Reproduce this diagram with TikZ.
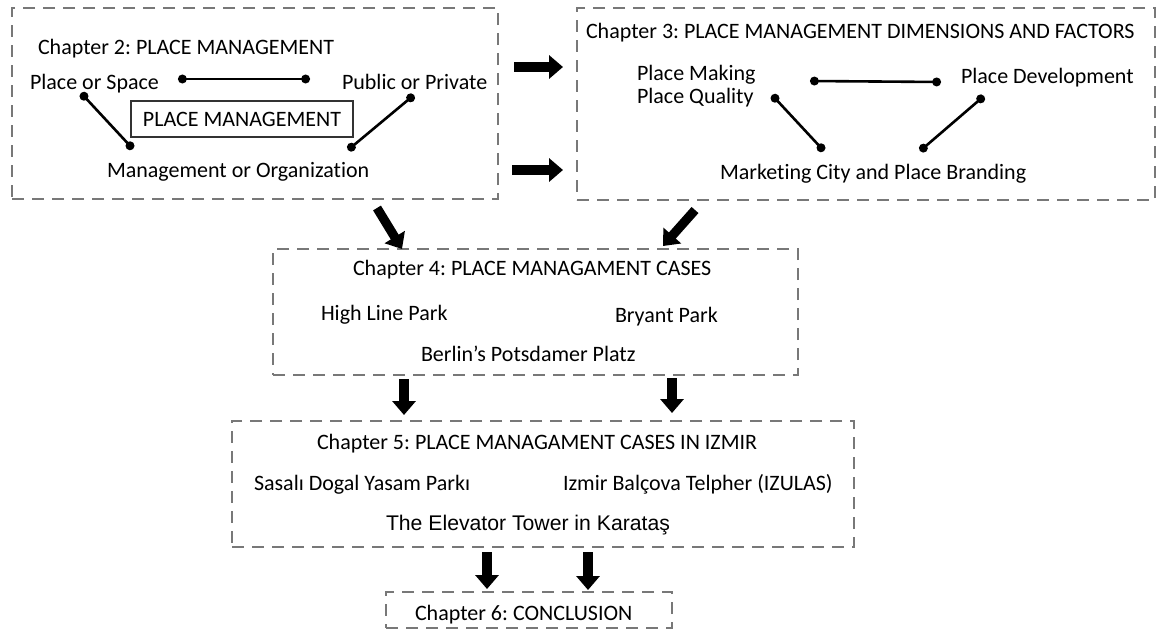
\documentclass[tikz,border=0pt]{standalone}
\usepackage{fontspec}
\setmainfont{Carlito}[Ligatures=NoCommon]
\newfontfamily\arialfont{Liberation Sans}
\frenchspacing
\usetikzlibrary{
    positioning,
    fit,
    arrows.meta
}
\definecolor{boxgray}{RGB}{120,120,120}
\tikzset{%
    chapter box/.style={%
        rectangle,
        draw=boxgray,
        line width=1.4pt,
        dash pattern=on 6pt off 4pt,
        inner sep = 0pt,
        outer sep = 0pt
    },
    core box/.style={%
        rectangle,
        draw=black!80,
        line width=0.6pt,
        inner sep = 0pt,
        outer sep = 0pt
    },
    label text/.style={%
        inner sep = 0pt,
        outer sep = 0pt,
        anchor=base west,
        font=\fontsize{11}{13}\selectfont
    },
    dot link/.style={%
        line width=1.3pt,
        {Circle[length=4.4pt]}-{Circle[length=4.4pt]}
    },
    flow arrow/.style={%
        line width=4.6pt,
        -{Triangle[width=11.5pt,length=7pt]}
    },
}

\begin{document}
\begin{tikzpicture}[x=0.5pt, y=-0.5pt]

    \useasboundingbox (0,0) rectangle (1159,632);

    % chapter boxes
    \node[chapter box, fit={(12,8) (498,199)}] (ch2) {};
    \node[chapter box, fit={(577,8) (1155,200)}] (ch3) {};
    \node[chapter box, fit={(273,249) (798,375)}] (ch4) {};
    \node[chapter box, fit={(232,421) (854,547)}] (ch5) {};
    \node[chapter box, fit={(386,592) (672,628)}] (ch6) {};

    % chapter 2
    \node[label text] (ch2 title) at (38,54) {Chapter 2: PLACE MANAGEMENT};
    \node[label text] (space) at (30,89) {Place or Space};
    \node[label text] (public) at (342,89) {Public or Private};
    \node[core box, fit={(131,101) (353,137)}] (core) {};
    \node[font=\fontsize{11}{13}\selectfont, inner sep=0pt] (core text) at (core.center) {PLACE MANAGEMENT};
    \node[label text] (organization) at (107,177) {Management or Organization};

    \coordinate (space right) at (178,79);
    \coordinate (public left) at (310,79);
    \coordinate (space low) at (81,93);
    \coordinate (organization left) at (133,149);
    \coordinate (public low) at (414,95);
    \coordinate (organization right) at (348,150);

    \draw[dot link] (space right) -- (public left);
    \draw[dot link] (space low) -- (organization left);
    \draw[dot link] (public low) -- (organization right);

    % chapter 3
    \node[label text] (ch3 title) at (586,38) {Chapter 3: PLACE MANAGEMENT DIMENSIONS AND FACTORS};
    \node[label text] (making) at (637,80) {Place Making};
    \node[label text] (quality) at (637,103) {Place Quality};
    \node[label text] (development) at (961,83) {Place Development};
    \node[label text] (branding) at (720,179) {Marketing City and Place Branding};

    \coordinate (making right) at (810,81);
    \coordinate (development left) at (941,82);
    \coordinate (quality right) at (772,95);
    \coordinate (branding left) at (824,151);
    \coordinate (development low) at (984,96);
    \coordinate (branding right) at (920,151);

    \draw[dot link] (making right) -- (development left);
    \draw[dot link] (quality right) -- (branding left);
    \draw[dot link] (development low) -- (branding right);

    % chapter 4
    \node[label text] (ch4 title) at (353,275) {Chapter 4: PLACE MANAGAMENT CASES};
    \node[label text] (highline) at (321,320) {High Line Park};
    \node[label text] (bryant) at (615,322) {Bryant Park};
    \node[label text] (potsdamer) at (421,361) {Berlin’s Potsdamer Platz};

    % chapter 5
    \node[label text] (ch5 title) at (317,449) {Chapter 5: PLACE MANAGAMENT CASES IN IZMIR};
    \node[label text] (sasali) at (254,490) {Sasalı Dogal Yasam Parkı};
    \node[label text] (izulas) at (563,490) {Izmir Balçova Telpher (IZULAS)};
    \node[label text, font=\arialfont\fontsize{10.6}{13}\selectfont] (elevator) at (386,530) {The Elevator Tower in Karataş};

    % chapter 6
    \node[label text] (ch6 title) at (415,620) {Chapter 6: CONCLUSION};

    % flow between chapters
    \coordinate (a1 start) at (514,67);
    \coordinate (a1 end) at (563,67);
    \coordinate (a2 start) at (512,170);
    \coordinate (a2 end) at (563,170);
    \coordinate (a3 start) at (377,208);
    \coordinate (a3 end) at (402,249);
    \coordinate (a4 start) at (695,210);
    \coordinate (a4 end) at (663,246);
    \coordinate (a5 start) at (404,379);
    \coordinate (a5 end) at (404,415);
    \coordinate (a6 start) at (672,378);
    \coordinate (a6 end) at (672,413);
    \coordinate (a7 start) at (487,552);
    \coordinate (a7 end) at (487,589);
    \coordinate (a8 start) at (588,552);
    \coordinate (a8 end) at (588,590);

    \foreach \i in {1,...,8}
        \draw[flow arrow] (a\i\space start) -- (a\i\space end);

\end{tikzpicture}
\end{document}
